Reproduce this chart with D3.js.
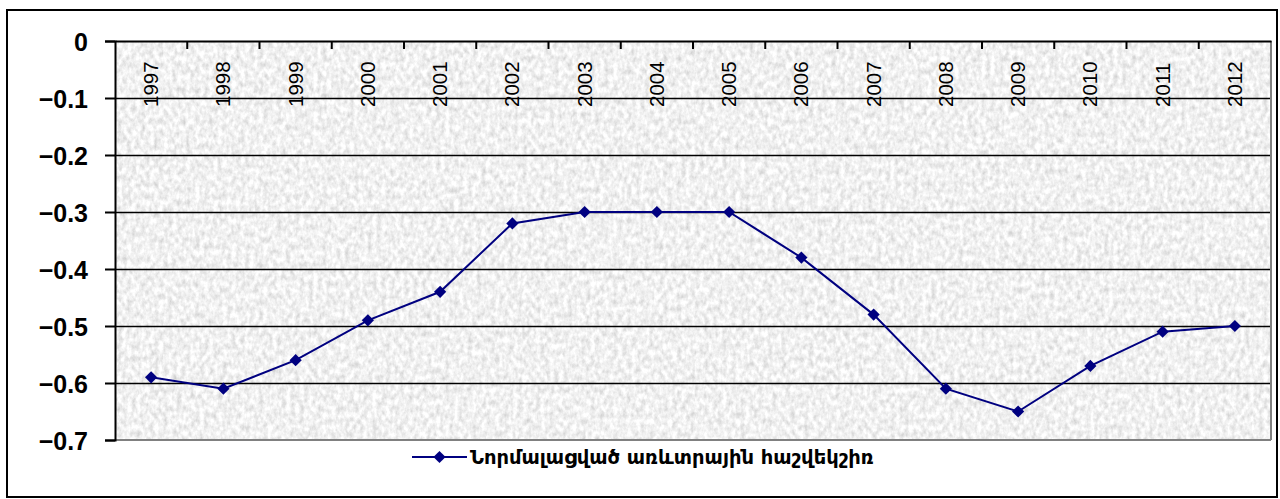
<!DOCTYPE html>
<html>
<head>
<meta charset="utf-8">
<script src="https://cdn.jsdelivr.net/npm/d3@7"></script>
<style>
body { margin: 0; background: #fff; }
svg { display: block; }
</style>
</head>
<body>
<svg id="chart"></svg>
<script>
var years = ["1997","1998","1999","2000","2001","2002","2003","2004","2005","2006","2007","2008","2009","2010","2011","2012"];
var values = [-0.59,-0.61,-0.56,-0.49,-0.44,-0.32,-0.30,-0.30,-0.30,-0.38,-0.48,-0.61,-0.65,-0.57,-0.51,-0.50];
var yTicks = [0,-0.1,-0.2,-0.3,-0.4,-0.5,-0.6,-0.7];
var seriesName = "Նորմալացված առևտրային հաշվեկշիռ";

var screen = {width: 1280, height: 499};
var plot = {left: 115, top: 41, right: 1271, bottom: 440};
var navy = "#000080";

var svg = d3.select("#chart")
    .attr("width", screen.width)
    .attr("height", screen.height);

// granite-ish background texture
var defs = svg.append("defs");
var filt = defs.append("filter").attr("id", "granite")
    .attr("x", 0).attr("y", 0).attr("width", "100%").attr("height", "100%");
filt.append("feTurbulence")
    .attr("type", "fractalNoise")
    .attr("baseFrequency", "0.22 0.16")
    .attr("numOctaves", 3)
    .attr("seed", 4)
    .attr("result", "noise");
filt.append("feColorMatrix")
    .attr("in", "noise")
    .attr("type", "matrix")
    .attr("values", "0 0 0 0.6 0.58  0 0 0 0.6 0.58  0 0 0 0.6 0.58  0 0 0 0 1");

// outer frame
svg.append("rect")
    .attr("x", 7).attr("y", 10)
    .attr("width", 1270).attr("height", 487)
    .attr("fill", "#fff")
    .attr("stroke", "#000")
    .attr("stroke-width", 2);

var xScale = d3.scaleBand()
    .domain(years)
    .range([plot.left, plot.right]);

var yScale = d3.scaleLinear()
    .domain([-0.7, 0])
    .range([plot.bottom, plot.top]);

// plot area
svg.append("rect")
    .attr("x", plot.left).attr("y", plot.top)
    .attr("width", plot.right - plot.left)
    .attr("height", plot.bottom - plot.top)
    .attr("fill", "#e8e8e8");
svg.append("rect")
    .attr("x", plot.left).attr("y", plot.top)
    .attr("width", plot.right - plot.left)
    .attr("height", plot.bottom - plot.top)
    .attr("filter", "url(#granite)");

// gridlines
svg.append("g")
    .selectAll("line")
    .data(yTicks.filter(function(d) { return d < 0 && d > -0.7; }))
    .enter()
    .append("line")
    .attr("x1", plot.left).attr("x2", plot.right)
    .attr("y1", function(d) { return Math.round(yScale(d)) + 0.5; })
    .attr("y2", function(d) { return Math.round(yScale(d)) + 0.5; })
    .attr("stroke", "#000")
    .attr("stroke-width", 1.3);

// plot border (grey right/bottom)
svg.append("line")
    .attr("x1", plot.left).attr("x2", plot.right)
    .attr("y1", plot.bottom).attr("y2", plot.bottom)
    .attr("stroke", "#808080").attr("stroke-width", 2);
svg.append("line")
    .attr("x1", plot.right).attr("x2", plot.right)
    .attr("y1", plot.top).attr("y2", plot.bottom)
    .attr("stroke", "#808080").attr("stroke-width", 2);

// y axis
var yAxis = d3.axisLeft(yScale)
    .tickValues(yTicks)
    .tickSize(10)
    .tickFormat(function(d) { return d === 0 ? "0" : d3.format(".1f")(d); });

var yG = svg.append("g")
    .attr("transform", "translate(" + plot.left + ",0)")
    .call(yAxis);
yG.select(".domain").attr("stroke", "#000").attr("stroke-width", 2);
yG.selectAll(".tick line").attr("stroke", "#000").attr("stroke-width", 2);
yG.selectAll(".tick text")
    .attr("x", -27)
    .attr("dy", "0.36em")
    .style("font-family", "Arial, 'Liberation Sans', sans-serif")
    .style("font-weight", "bold")
    .style("font-size", "25px")
    .attr("fill", "#000");

// x axis at value 0 (top), ticks pointing in
var xAxis = d3.axisBottom(xScale)
    .tickSize(0)
    .tickFormat("");
var xG = svg.append("g")
    .attr("transform", "translate(0," + yScale(0) + ")")
    .call(xAxis);
xG.select(".domain").attr("stroke", "#000").attr("stroke-width", 2);

svg.append("g")
    .selectAll("line")
    .data(years.slice(1))
    .enter()
    .append("line")
    .attr("x1", function(d) { return xScale(d); })
    .attr("x2", function(d) { return xScale(d); })
    .attr("y1", yScale(0)).attr("y2", yScale(0) + 8)
    .attr("stroke", "#000").attr("stroke-width", 2);

// category labels, rotated
svg.append("g")
    .selectAll("text")
    .data(years)
    .enter()
    .append("text")
    .attr("transform", function(d) {
        return "translate(" + (xScale(d) + xScale.bandwidth() / 2 + 7) + "," + 107 + ") rotate(-90)";
    })
    .style("font-family", "Arial, 'Liberation Sans', sans-serif")
    .style("font-size", "20.5px")
    .attr("fill", "#000")
    .text(function(d) { return d; });

// series line
var lineGen = d3.line()
    .x(function(d, i) { return xScale(years[i]) + xScale.bandwidth() / 2; })
    .y(function(d) { return yScale(d); });

svg.append("path")
    .datum(values)
    .attr("fill", "none")
    .attr("stroke", navy)
    .attr("stroke-width", 2)
    .attr("d", lineGen);

var diamond = d3.symbol().type(d3.symbolDiamond2).size(95);

svg.append("g")
    .selectAll("path")
    .data(values)
    .enter()
    .append("path")
    .attr("transform", function(d, i) {
        return "translate(" + (xScale(years[i]) + xScale.bandwidth() / 2) + "," + yScale(d) + ")";
    })
    .attr("d", diamond)
    .attr("fill", navy);

// legend
var lg = svg.append("g").attr("transform", "translate(412,457)");
lg.append("line")
    .attr("x1", 0).attr("x2", 55)
    .attr("y1", 0).attr("y2", 0)
    .attr("stroke", navy).attr("stroke-width", 2);
lg.append("path")
    .attr("transform", "translate(27.5,0)")
    .attr("d", diamond)
    .attr("fill", navy);
lg.append("text")
    .attr("x", 58)
    .attr("y", 0)
    .attr("dy", "0.35em")
    .style("font-family", "'DejaVu Sans', sans-serif")
    .style("font-weight", "bold")
    .style("font-size", "19.5px")
    .attr("fill", "#000")
    .text(seriesName);
</script>
</body>
</html>
